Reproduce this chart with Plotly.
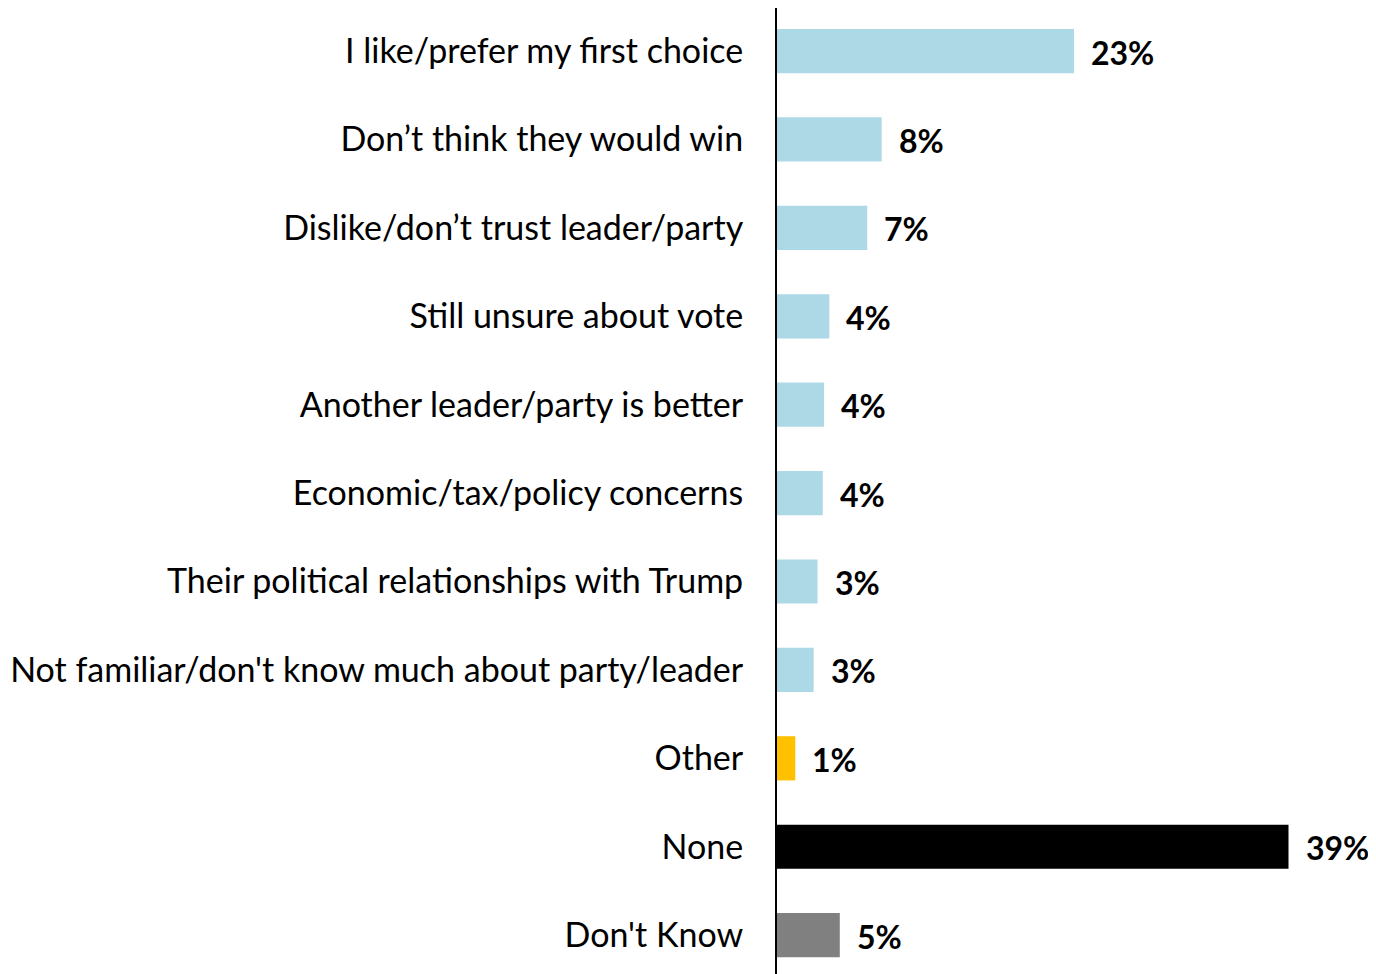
import plotly.graph_objects as go

categories = [
    "I like/prefer my first choice",
    "Don\u2019t think they would win",
    "Dislike/don\u2019t trust leader/party",
    "Still unsure about vote",
    "Another leader/party is better",
    "Economic/tax/policy concerns",
    "Their political relationships with Trump",
    "Not familiar/don't know much about party/leader",
    "Other",
    "None",
    "Don't Know",
]
values = [22.7, 8.0, 6.9, 4.0, 3.6, 3.5, 3.1, 2.8, 1.4, 39.1, 4.8]
value_labels = ["23%", "8%", "7%", "4%", "4%", "4%", "3%", "3%", "1%", "39%", "5%"]
colors = ["#ADD8E6"] * 8 + ["#FFC000", "#000000", "#808080"]

fig = go.Figure()
fig.add_trace(go.Bar(
    x=values, y=categories, orientation="h",
    marker=dict(color=colors, line=dict(width=0)),
    width=0.5, hoverinfo="skip",
))

for c, v, t in zip(categories, values, value_labels):
    fig.add_annotation(
        x=v, y=c, text=t, showarrow=False, xanchor="left", yanchor="middle",
        xshift=15, yshift=-1,
        font=dict(family="Lato", size=32, color="black", weight="bold"),
    )

fig.update_layout(
    width=1376, height=974,
    margin=dict(l=769, r=0, t=0, b=0),
    paper_bgcolor="white", plot_bgcolor="white",
    showlegend=False,
    font=dict(family="Lato", size=34, color="black"),
    xaxis=dict(range=[0, 46.4], visible=False, showgrid=False, zeroline=False),
    yaxis=dict(
        categoryorder="array", categoryarray=categories,
        range=[10.53, -0.487], autorange=False,
        showline=True, linecolor="black", linewidth=2,
        showgrid=False, zeroline=False, ticks="",
        ticklabelstandoff=25,
        tickfont=dict(family="Lato", size=34, color="black"),
    ),
)

fig.write_html("out.html")
